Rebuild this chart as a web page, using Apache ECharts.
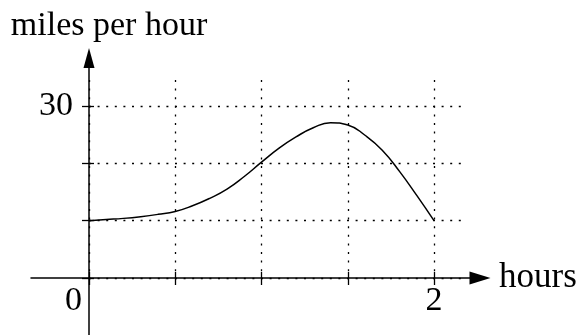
<!DOCTYPE html>
<html lang="en">
<head>
<meta charset="UTF-8">
<title>Speed over two hours</title>
<script src="https://cdn.jsdelivr.net/npm/echarts@6/dist/echarts.min.js"></script>
<style>html, body { margin: 0; padding: 0; background: #fff; }</style>
</head>
<body>
<div id="main" style="width: 578px; height: 335px;"></div>
<script>
// readings, every 0.1 hour
var hours = [0, 0.1, 0.2, 0.3, 0.4, 0.5, 0.6, 0.7, 0.8, 0.9, 1.0,
             1.1, 1.2, 1.3, 1.4, 1.5, 1.6, 1.7, 1.8, 1.9, 2.0];
var speed = [10, 10.2, 10.4, 10.7, 11.1, 11.6, 12.6, 13.9, 15.5, 17.7, 20.2,
             22.6, 24.6, 26.2, 27.1, 26.7, 24.9, 22.3, 18.6, 14.4, 10.0];
var xLabels = {0: '{z|0}', 2: '2'};   // only these ticks get a number
var yLabels = {30: '30'};

var font = 'Liberation Serif';
var dotted = {color: '#000', width: 1.3, type: [2, 6.6]};
var tickLine = {color: '#000', width: 1.3};

var chart = echarts.init(document.getElementById('main'));
var points = hours.map(function (h, i) { return [h, speed[i]]; });

function hidden(grid) {
    return {gridIndex: grid, type: 'value', show: false, min: 0, max: 1};
}

var option = {
    animation: false,
    backgroundColor: '#fff',
    grid: [
        {left: 89, width: 345, top: 80, height: 198},   // vertical grid lines
        {left: 89, width: 374, top: 106, height: 172},  // horizontal grid lines
        {left: 89, width: 345, top: 106, height: 172},  // data
        {left: 89, width: 100, top: 58, height: 277},   // y axis line
        {left: 31, width: 449, top: 200, height: 78}    // x axis line
    ],
    xAxis: [
        {
            gridIndex: 0, type: 'value', min: 0, max: 2, interval: 0.5,
            axisLine: {show: false},
            axisTick: {show: true, inside: true, length: 6, lineStyle: tickLine},
            axisLabel: {show: false},
            splitLine: {show: true, lineStyle: dotted}
        },
        hidden(1),
        {
            gridIndex: 2, type: 'value', min: 0, max: 2, interval: 0.5,
            axisLine: {show: false},
            axisTick: {show: true, length: 7, lineStyle: tickLine},
            axisLabel: {
                show: true, margin: 6, color: '#000', fontFamily: font, fontSize: 34,
                formatter: function (v) { return xLabels[v] || ''; },
                rich: {z: {fontFamily: font, fontSize: 34, color: '#000', padding: [0, 31, 0, 0]}}
            },
            splitLine: {show: false}
        },
        hidden(3),
        {
            gridIndex: 4, type: 'value', min: -0.336, max: 2.267,
            name: 'hours', nameLocation: 'end', nameGap: 19,
            nameTextStyle: {fontFamily: font, fontSize: 35, color: '#000'},
            axisLine: {show: true, onZero: false, symbol: ['none', 'triangle'], symbolSize: [13, 21],
                       lineStyle: {color: '#000', width: 1.5}},
            axisTick: {show: false},
            axisLabel: {show: false},
            splitLine: {show: false}
        }
    ],
    yAxis: [
        hidden(0),
        {
            gridIndex: 1, type: 'value', min: 0, max: 30, interval: 10,
            axisLine: {show: false},
            axisTick: {show: true, length: 7, lineStyle: tickLine},
            axisLabel: {show: false},
            splitLine: {show: true, lineStyle: dotted}
        },
        {
            gridIndex: 2, type: 'value', min: 0, max: 30, interval: 10,
            axisLine: {show: false},
            axisTick: {show: true, inside: true, length: 5, lineStyle: tickLine},
            axisLabel: {
                show: true, margin: 16, color: '#000', fontFamily: font, fontSize: 34,
                formatter: function (v) { return yLabels[v] || ''; }
            },
            splitLine: {show: false}
        },
        {
            gridIndex: 3, type: 'value', min: 0, max: 1,
            name: 'miles per hour', nameLocation: 'end', nameGap: 15,
            nameTextStyle: {fontFamily: font, fontSize: 34, color: '#000', padding: [0, 0, 0, 40]},
            axisLine: {show: true, onZero: false, symbol: ['none', 'triangle'], symbolSize: [11, 20],
                       lineStyle: {color: '#000', width: 1.5}},
            axisTick: {show: false},
            axisLabel: {show: false},
            splitLine: {show: false}
        },
        hidden(4)
    ],
    series: [{
        type: 'line',
        xAxisIndex: 2,
        yAxisIndex: 2,
        data: points,
        smooth: 0.5,
        showSymbol: false,
        lineStyle: {color: '#000', width: 1.5}
    }]
};
chart.setOption(option);
</script>
</body>
</html>
